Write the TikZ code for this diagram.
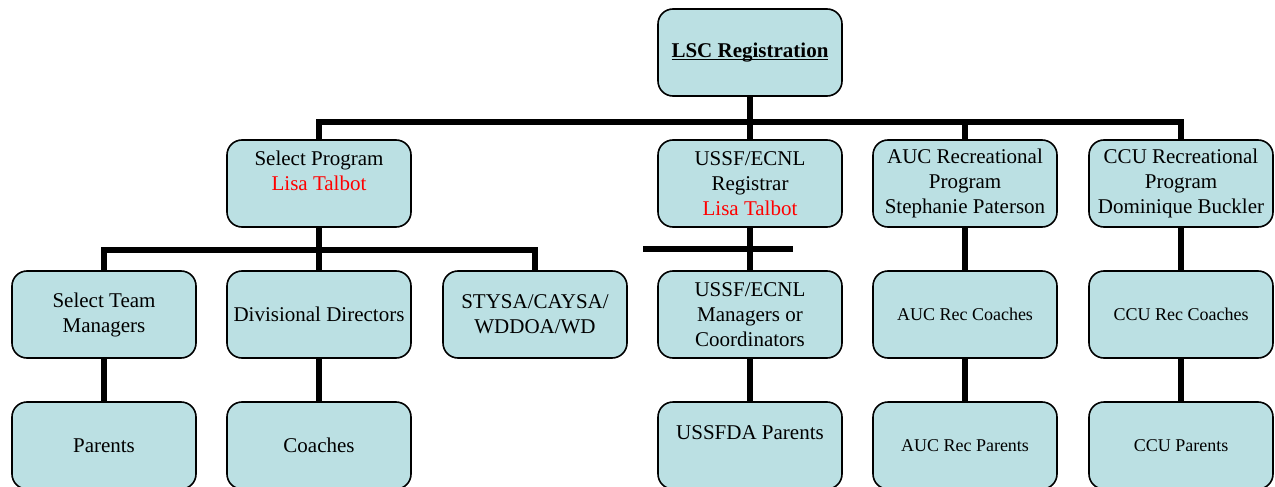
\documentclass[tikz,border=0pt]{standalone}
\usepackage{fontspec}
\setmainfont{Liberation Serif}
\usetikzlibrary{positioning}
\definecolor{boxfill}{RGB}{187,224,227}
\newcommand\lscline[1]{\setbox0\hbox{#1}\rlap{\rule[-3pt]{\wd0}{1.3pt}}\box0}

\begin{document}
\begin{tikzpicture}[x=1pt, y=-1pt,
    box/.style={draw, line width=1.6pt, rounded corners=15pt, fill=boxfill,
      minimum width=184pt, minimum height=87pt, align=center, inner sep=0pt,
      font=\fontsize{21}{25}\selectfont},
    small/.style={font=\fontsize{18}{22}\selectfont},
    bar/.style={line width=6.5pt}]
  \useasboundingbox (0,0) rectangle (1275,487);
  \clip (0,0) rectangle (1275,487);
  % top
  \node[box] (L) at (750,52.5) {\lscline{\textbf{LSC Registration}}};
  % programs
  \node[box] (S) at (319,183.5) {Select Program\\\textcolor{red}{Lisa Talbot}\\~};
  \node[box] (R) at (750,183.5) {USSF/ECNL\\Registrar\\\textcolor{red}{Lisa Talbot}};
  \node[box] (A) at (965,183.5) {AUC Recreational\\Program\\Stephanie Paterson};
  \node[box] (C) at (1181,183.5) {CCU Recreational\\Program\\Dominique Buckler};
  % managers and coaches
  \node[box] (M) at (104,314.5) {Select Team\\Managers};
  \node[box] (D) at (319,314.5) {Divisional Directors};
  \node[box] (Y) at (535,314.5) {STYSA/CAYSA/\\WDDOA/WD};
  \node[box] (U) at (750,314.5) {USSF/ECNL\\Managers or\\Coordinators};
  \node[box, small] (AC) at (965,314.5) {AUC Rec Coaches};
  \node[box, small] (CC) at (1181,314.5) {CCU Rec Coaches};
  % parents
  \node[box] (P) at (104,445.5) {Parents};
  \node[box] (CO) at (319,445.5) {Coaches};
  \node[box] (UP) at (750,445.5) {USSFDA Parents\\~};
  \node[box, small] (AP) at (965,445.5) {AUC Rec Parents};
  \node[box, small] (CP) at (1181,445.5) {CCU Parents};

  \coordinate (b1) at (0,122);
  \coordinate (b2) at (0,250);
  \coordinate (k1) at (643,249);
  \coordinate (k2) at (793,249);

  \draw[bar] (S.north) -- (S.north |- b1) -| (C.north);
  \draw[bar] (L.south) -- (R.north);
  \draw[bar] (A.north) -- (A.north |- b1);
  \draw[bar] (M.north) -- (M.north |- b2) -| (Y.north);
  \draw[bar] (S.south) -- (D.north);
  \draw[bar] (k1) -- (k2);
  \foreach\a/\b in {R/U, A/AC, C/CC, M/P, D/CO, U/UP, AC/AP, CC/CP}{
    \draw[bar] (\a.south) -- (\b.north);
  }
\end{tikzpicture}
\end{document}
